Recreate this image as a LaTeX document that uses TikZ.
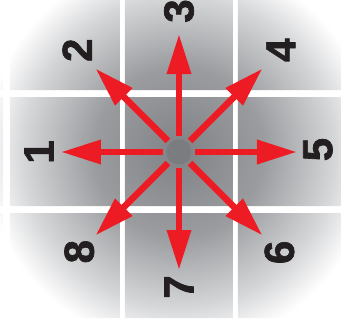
\documentclass[tikz,border=0pt]{standalone}
\usepackage{fontspec}
\setsansfont{Liberation Sans}[BoldFeatures={FakeBold=1.6}]
\usepackage{tikz}
\usetikzlibrary{arrows.meta,shadings}
\definecolor{arrcol}{RGB}{237,28,36}
\definecolor{hubcol}{RGB}{122,124,127}
\definecolor{digcol}{RGB}{35,31,32}
\definecolor{glowin}{RGB}{128,130,133}
\definecolor{glowmid}{RGB}{154,156,159}
\definecolor{glowout}{RGB}{213,214,216}
\pgfdeclareradialshading{cellglow}{\pgfpoint{0bp}{0bp}}{%
  color(0bp)=(glowin); color(10.9bp)=(glowmid); color(19.9bp)=(glowout);
  color(25bp)=(white); color(50bp)=(white)}

\begin{document}
\begin{tikzpicture}[x=1pt, y=1pt,
  hb/.style={circle, fill=hubcol, minimum size=25pt, inner sep=0pt},
  dg/.style={font=\sffamily\bfseries\fontsize{42}{42}\selectfont, text=digcol,
             rotate=90, inner sep=0pt},
  ar/.style={-{Triangle[length=40pt, width=23pt]}, line width=6.5pt, arrcol,
             shorten <=3pt},
]
\useasboundingbox (-179,-170) rectangle (162,152);

% grey cells with the glow behind them
\begin{scope}
  \clip \foreach \xa/\xb in {-283/-176,-169/-59,-54/54,59/168}
        {\foreach \ya/\yb in {-166/-61,-54/55,62/170}
        {(\xa,\ya) rectangle (\xb,\yb)}};
  \shade[shading=cellglow] (0,0) circle (195pt);
\end{scope}

\def\r{118}
\node[hb] (hub) at (0,0) {};

\coordinate (w)  at (180:\r);
\coordinate (nw) at (135:\r);
\coordinate (n)  at ( 90:\r);
\coordinate (ne) at ( 45:\r);
\coordinate (e)  at (  0:\r);
\coordinate (se) at (-45:\r);
\coordinate (s)  at (-90:\r);
\coordinate (sw) at (-135:\r);

\foreach \t in {w,nw,n,ne,e,se,s,sw}
  \draw[ar] (hub) to (\t);

\node[dg] (lw)  at (180:140) {1};
\node[dg] (lnw) at (135:144) {2};
\node[dg] (ln)  at ( 90:141) {3};
\node[dg] (lne) at ( 45:144) {4};
\node[dg] (le)  at (  1:139) {5};
\node[dg] (lse) at (-45:142) {6};
\node[dg] (ls)  at (-90:135) {7};
\node[dg] (lsw) at (-135:141) {8};
\end{tikzpicture}
\end{document}
